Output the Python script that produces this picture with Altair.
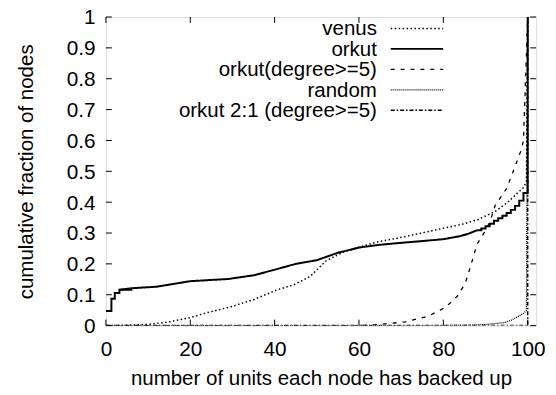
import altair as alt
import pandas as pd

# ---- data ----
venus_x = [0, 5, 10, 15, 20, 24, 29.6, 35, 40.6, 44.5, 48.4, 52.3, 56.3, 60, 64, 69, 73.5, 80.5, 84.4, 88.3, 92.3, 95.3, 97.6, 98.8, 99.7, 100]
venus_y = [0, 0.001, 0.004, 0.012, 0.026, 0.042, 0.061, 0.084, 0.116, 0.132, 0.159, 0.211, 0.238, 0.254, 0.27, 0.283, 0.296, 0.317, 0.328, 0.344, 0.37, 0.40, 0.43, 0.444, 0.465, 1.0]

orkut_x = [0, 1.3, 2.1, 3.2, 6, 12, 20, 29, 35, 40, 45, 50, 55, 60, 65, 69, 75, 80, 84, 86,
           88, 89, 90, 91, 92, 93, 94, 95, 96, 97, 98, 99, 100]
orkut_y = [0.047, 0.087, 0.106, 0.116, 0.121, 0.126, 0.144, 0.151, 0.163, 0.181, 0.200, 0.212, 0.236, 0.253, 0.262, 0.267, 0.274, 0.28, 0.29, 0.298,
           0.309, 0.315, 0.322, 0.330, 0.340, 0.348, 0.356, 0.365, 0.375, 0.388, 0.405, 0.43, 1.0]

orkut5_x = [0, 60, 65, 71, 76.5, 80.5, 83.3, 85.2, 86.4, 88, 89.9, 91.1, 92.3, 95, 96.2, 97.4, 98.5, 99, 100]
orkut5_y = [0, 0, 0.004, 0.012, 0.031, 0.059, 0.095, 0.137, 0.19, 0.264, 0.306, 0.338, 0.39, 0.444, 0.487, 0.53, 0.571, 0.6, 1.0]

random_x = [0, 80, 85, 88, 91, 94.6, 96, 97.7, 99, 99.7, 100]
random_y = [0, 0, 0.001, 0.002, 0.005, 0.01, 0.017, 0.029, 0.04, 0.049, 1.0]

orkut21_x = [0, 100]
orkut21_y = [0, 1.0]

series_names = ["venus", "orkut", "orkut(degree>=5)", "random", "orkut 2:1 (degree>=5)"]
x_ticks = [0, 20, 40, 60, 80, 100]
y_ticks = [0, 0.1, 0.2, 0.3, 0.4, 0.5, 0.6, 0.7, 0.8, 0.9, 1.0]

# ---- styling ----
FONT = "Liberation Sans"
FS = 21
FT = 20.7
W, H = 435, 312
dashes = {
    "venus": [1.5, 2.5],
    "orkut": [1, 0],
    "orkut(degree>=5)": [4, 6],
    "random": [1, 1],
    "orkut 2:1 (degree>=5)": [4, 2, 1.5, 2],
}
widths = {"venus": 1.5, "orkut": 2, "orkut(degree>=5)": 1.3, "random": 1.3, "orkut 2:1 (degree>=5)": 1.5}

xs = alt.Scale(domain=[0, 102], nice=False, zero=False)
ys = alt.Scale(domain=[0, 1], nice=False)

AX = alt.Axis(values=x_ticks, ticks=False, domain=False, grid=False,
              labelFont=FONT, labelFontSize=FS, labelColor="black",
              labelPadding=13, labelFlush=False, labelOverlap=False,
              title="number of units each node has backed up",
              titleFont=FONT, titleFontSize=FT, titleFontWeight="normal",
              titleColor="black", titleY=60, titleBaseline="alphabetic")
AY = alt.Axis(values=y_ticks, ticks=False, domain=False, grid=False,
              labelFont=FONT, labelFontSize=FS, labelColor="black",
              labelPadding=11, labelFlush=False, labelOverlap=False,
              labelOffset=1,
              labelExpr="format(datum.value, '~g')",
              title="cumulative fraction of nodes",
              titleFont=FONT, titleFontSize=FT, titleFontWeight="normal",
              titleColor="black", titleX=-74, titleBaseline="alphabetic")

def X():
    return alt.X("x:Q", scale=xs, axis=AX)

def Y():
    return alt.Y("y:Q", scale=ys, axis=AY)

def df(xv, yv):
    return pd.DataFrame({"x": xv, "y": yv})

def line(data, name, interp="linear"):
    return alt.Chart(data).mark_line(
        color="black", strokeDash=dashes[name], strokeWidth=widths[name],
        interpolate=interp, clip=True
    ).encode(x=X(), y=Y())

orkut_df = df(orkut_x, orkut_y)

xt = pd.DataFrame({"x": x_ticks})
yt = pd.DataFrame({"y": y_ticks})
tick_bot = alt.Chart(xt).mark_rule(color="black", strokeWidth=1).encode(
    x=X(), y=alt.value(H), y2=alt.value(H - 6))
tick_top = alt.Chart(xt).mark_rule(color="black", strokeWidth=1).encode(
    x=X(), y=alt.value(0), y2=alt.value(6))
tick_left = alt.Chart(yt).mark_rule(color="black", strokeWidth=1).encode(
    y=Y(), x=alt.value(0), x2=alt.value(6))
tick_right = alt.Chart(yt).mark_rule(color="black", strokeWidth=1).encode(
    y=Y(), x=alt.value(W), x2=alt.value(W - 6))

layers = [
    line(df(venus_x, venus_y), "venus"),
    line(orkut_df[orkut_df.x <= 6], "orkut", "step-after"),
    line(orkut_df[(orkut_df.x >= 3.2) & (orkut_df.x <= 88)], "orkut"),
    line(orkut_df[orkut_df.x >= 88], "orkut", "step-after"),
    line(df(orkut5_x, orkut5_y), "orkut(degree>=5)"),
    line(df(random_x, random_y), "random"),
    line(df(orkut21_x, orkut21_y), "orkut 2:1 (degree>=5)", "step-after"),
    tick_bot, tick_top, tick_left, tick_right,
]

# legend (gnuplot style: right-aligned label, sample to the right)
for i, name in enumerate(series_names):
    yy = 11.5 + 20.7 * i
    layers.append(alt.Chart(pd.DataFrame({"t": [name]})).mark_text(
        align="right", baseline="middle", font=FONT, fontSize=FT, color="black"
    ).encode(text="t:N", x=alt.value(274), y=alt.value(yy + 1)))
    layers.append(alt.Chart(pd.DataFrame({"t": [name]})).mark_rule(
        color="black", strokeDash=dashes[name], strokeWidth=widths[name]
    ).encode(x=alt.value(288), x2=alt.value(341), y=alt.value(yy)))

chart = alt.layer(*layers).properties(
    width=W, height=H,
    autosize=alt.AutoSizeParams(type="none"),
    padding={"left": 99, "top": 7, "right": 12, "bottom": 64},
).configure_view(stroke="black", strokeWidth=1.5).configure(background="white")

chart.save("out.html", embed_options={"renderer": "svg", "actions": False})
